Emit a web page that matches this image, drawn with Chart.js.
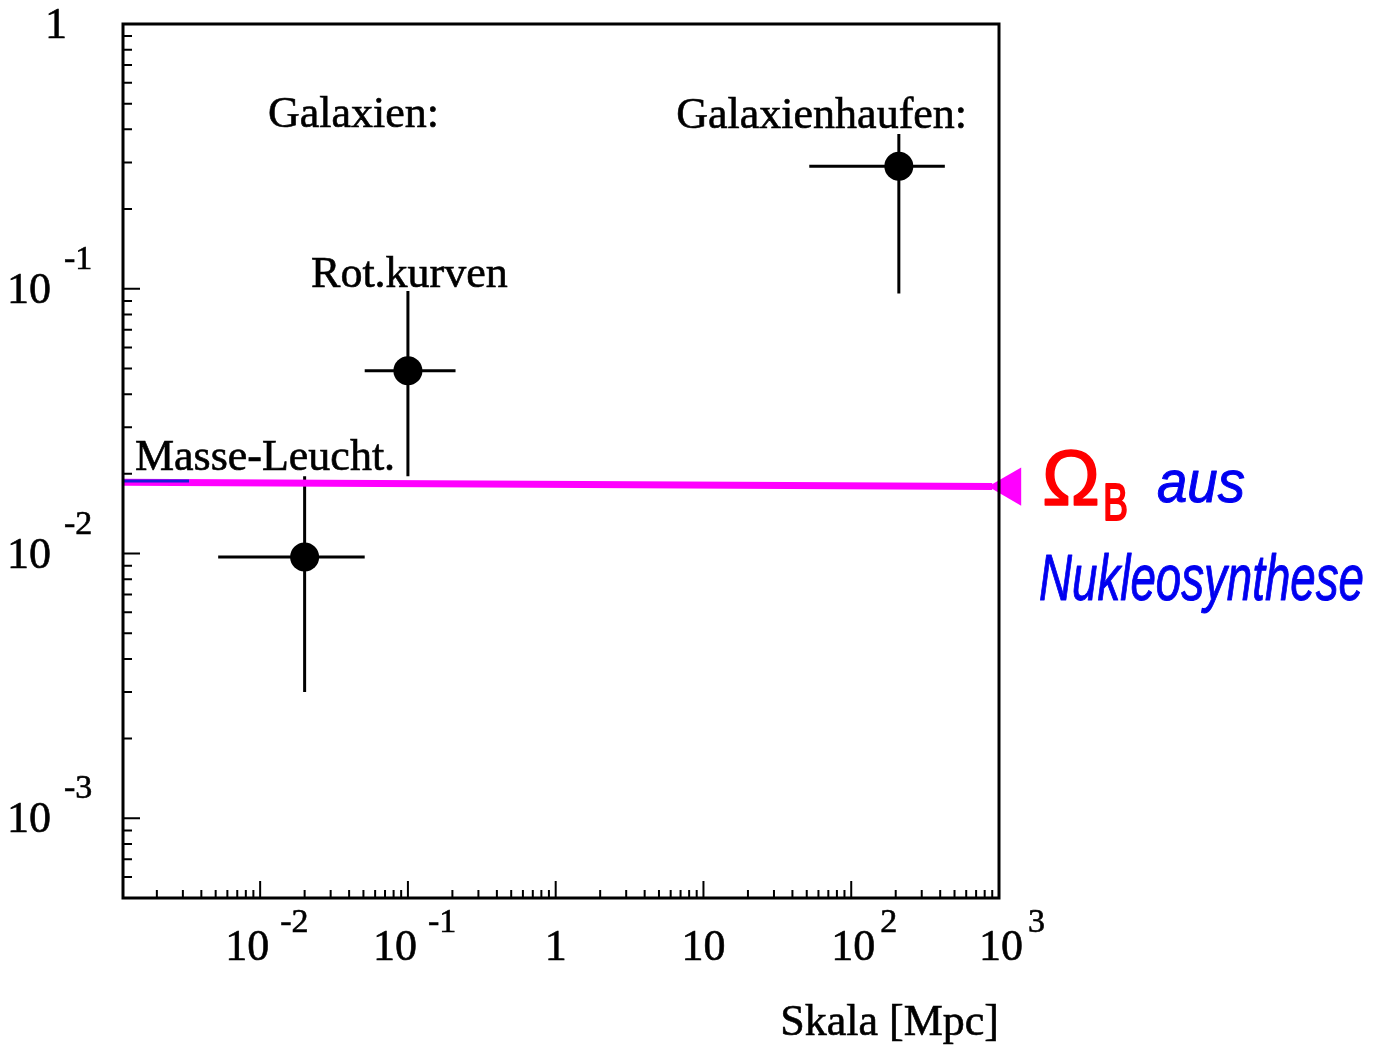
<!DOCTYPE html>
<html>
<head>
<meta charset="utf-8">
<style>
  html, body { margin: 0; padding: 0; background: #fff; }
  canvas { display: block; }
</style>
<script src="https://cdn.jsdelivr.net/npm/chart.js@4.4.1/dist/chart.umd.min.js"></script>
</head>
<body>
<canvas id="c" width="1382" height="1046"></canvas>
<script>
// Mass density estimates Omega versus length scale (Mpc)
const groups     = ['Masse-Leucht.', 'Rot.kurven', 'Galaxienhaufen'];
const scaleMpc   = [0.02, 0.1, 210];
const scaleLow   = [0.0052, 0.051, 52];
const scaleHigh  = [0.051, 0.21, 430];
const omega      = [0.0097, 0.049, 0.29];
const omegaLow   = [0.003, 0.0196, 0.096];
const omegaHigh  = [0.0196, 0.098, 0.384];

// Baryon density from nucleosynthesis (hand-drawn marker line, left/right end)
const omegaBScale = [0.00118, 900];
const omegaBValue = [0.0186, 0.0179];
const arrowScale  = 1190;
// short pen stroke at the left end of the marker line
const penScale    = [0.00118, 0.0033];
const penValue    = [0.0188, 0.0188];

// Axis ranges
const xMin = 0.00118, xMax = 1000;
const yMin = 0.0005,  yMax = 1;

// Tick labels (base and exponent)
const xTickValues = [0.01, 0.1, 1, 10, 100, 1000];
const xTickBase   = ['10', '10', '1', '10', '10', '10'];
const xTickExp    = ['-2', '-1', '', '', '2', '3'];
const yTickValues = [1, 0.1, 0.01, 0.001];
const yTickBase   = ['1', '10', '10', '10'];
const yTickExp    = ['', '-1', '-2', '-3'];
const minorSteps  = [2, 3, 4, 5, 6, 7, 8, 9];

// Text inside the frame, anchored at data coordinates (left edge, baseline)
const noteTexts = ['Galaxien:', 'Galaxienhaufen:', 'Rot.kurven', 'Masse-Leucht.'];
const noteX     = [0.0113, 6.55, 0.0221, 0.00142];
const noteY     = [0.408, 0.405, 0.1016, 0.0207];

const xTitle = 'Skala [Mpc]';

const SERIF = "'Liberation Serif', 'Times New Roman', serif";
const MAIN_FONT = '44px ' + SERIF;
const SUP_FONT  = '34px ' + SERIF;

function minorTicks(lo, hi) {
  const out = [];
  for (let d = Math.floor(Math.log10(lo)); d <= Math.ceil(Math.log10(hi)); d++) {
    for (const m of minorSteps) {
      const v = m * Math.pow(10, d);
      if (v > lo * 1.0001 && v < hi * 0.9999) out.push(v);
    }
  }
  return out;
}

// Text with a faint outline so it prints a little heavier
function inkText(ctx, text, x, y) {
  ctx.fillText(text, x, y);
  ctx.strokeText(text, x, y);
}

// Draw a string squeezed to a given width
function fitText(ctx, text, x, y, width, font, color, weight) {
  ctx.save();
  ctx.font = font;
  ctx.fillStyle = color;
  ctx.strokeStyle = color;
  ctx.lineWidth = weight;
  ctx.lineJoin = 'round';
  ctx.textAlign = 'left';
  const w = ctx.measureText(text).width;
  ctx.translate(x, y);
  ctx.scale(width / w, 1);
  ctx.fillText(text, 0, 0);
  if (weight > 0) ctx.strokeText(text, 0, 0);
  ctx.restore();
}

const errorBars = {
  id: 'errorBars',
  beforeDatasetsDraw(chart) {
    const { ctx, scales: { x, y } } = chart;
    ctx.save();
    ctx.strokeStyle = '#000';
    ctx.lineWidth = 3;
    for (let i = 0; i < scaleMpc.length; i++) {
      const px = x.getPixelForValue(scaleMpc[i]);
      const py = y.getPixelForValue(omega[i]);
      ctx.beginPath();
      ctx.moveTo(x.getPixelForValue(scaleLow[i]), py);
      ctx.lineTo(x.getPixelForValue(scaleHigh[i]), py);
      ctx.moveTo(px, y.getPixelForValue(omegaLow[i]));
      ctx.lineTo(px, y.getPixelForValue(omegaHigh[i]));
      ctx.stroke();
    }
    ctx.restore();
  }
};

const frameAndLabels = {
  id: 'frameAndLabels',
  afterDraw(chart) {
    const { ctx, chartArea: a, scales: { x, y } } = chart;
    ctx.save();

    // frame
    ctx.strokeStyle = '#000';
    ctx.lineWidth = 3;
    ctx.strokeRect(a.left, a.top, a.right - a.left, a.bottom - a.top);

    // inward ticks on the left and bottom axes
    ctx.lineWidth = 2;
    ctx.beginPath();
    for (const v of xTickValues) {
      const p = x.getPixelForValue(v);
      ctx.moveTo(p, a.bottom); ctx.lineTo(p, a.bottom - 17);
    }
    for (const v of minorTicks(xMin, xMax)) {
      const p = x.getPixelForValue(v);
      ctx.moveTo(p, a.bottom); ctx.lineTo(p, a.bottom - 8);
    }
    for (const v of yTickValues) {
      const p = y.getPixelForValue(v);
      ctx.moveTo(a.left, p); ctx.lineTo(a.left + 17, p);
    }
    for (const v of minorTicks(yMin, yMax)) {
      const p = y.getPixelForValue(v);
      ctx.moveTo(a.left, p); ctx.lineTo(a.left + 9, p);
    }
    ctx.stroke();

    ctx.fillStyle = '#000';
    ctx.strokeStyle = '#000';
    ctx.lineWidth = 0.6;
    ctx.textBaseline = 'alphabetic';

    // x tick labels
    xTickValues.forEach((v, i) => {
      const t = x.getPixelForValue(v);
      const base = xTickBase[i], exp = xTickExp[i];
      ctx.font = MAIN_FONT;
      const w = ctx.measureText(base).width;
      let cx = t;
      if (exp.startsWith('-')) cx = t - 13;
      else if (exp) cx = t + 2;
      ctx.textAlign = 'center';
      inkText(ctx, base, cx, a.bottom + 62);
      if (exp) {
        ctx.font = SUP_FONT;
        ctx.textAlign = 'left';
        inkText(ctx, exp, cx + w / 2 + (exp.startsWith('-') ? 11 : 5), a.bottom + 34);
      }
    });

    // y tick labels
    yTickValues.forEach((v, i) => {
      const t = y.getPixelForValue(v);
      const base = yTickBase[i], exp = yTickExp[i];
      ctx.font = MAIN_FONT;
      ctx.textAlign = 'left';
      if (exp) {
        inkText(ctx, base, 7, t + 14);
        ctx.font = SUP_FONT;
        inkText(ctx, exp, 64, t - 20);
      } else {
        inkText(ctx, base, 45, t + 14);
      }
    });

    // axis title
    ctx.font = MAIN_FONT;
    ctx.textAlign = 'right';
    inkText(ctx, xTitle, a.right, a.bottom + 137);

    // notes inside the frame
    ctx.textAlign = 'left';
    noteTexts.forEach((s, i) => {
      inkText(ctx, s, x.getPixelForValue(noteX[i]), y.getPixelForValue(noteY[i]));
    });

    // handwritten caption next to the marker line
    const ly = y.getPixelForValue(omegaBValue[1]);
    const lx = a.right;
    fitText(ctx, 'Ω', lx + 43, ly + 18, 58, '78px "Liberation Sans"', '#ff0000', 1.5);
    fitText(ctx, 'B', lx + 104, ly + 33, 25, '52px "Liberation Sans"', '#ff0000', 2);
    fitText(ctx, 'aus', lx + 158, ly + 15, 88, 'italic 60px "Liberation Sans"', '#0000f0', 1);
    fitText(ctx, 'Nukleosynthese', lx + 40, ly + 113, 325, 'italic 64px "Liberation Sans"', '#0000f0', 1);

    ctx.restore();
  }
};

new Chart(document.getElementById('c'), {
  type: 'scatter',
  data: {
    datasets: [
      {
        label: 'Omega',
        data: scaleMpc.map((v, i) => ({ x: v, y: omega[i] })),
        pointRadius: 14.5,
        pointHoverRadius: 14.5,
        pointBackgroundColor: '#000',
        pointBorderWidth: 0,
        showLine: false,
        order: 0
      },
      {
        label: 'pen',
        type: 'line',
        data: penScale.map((v, i) => ({ x: v, y: penValue[i] })),
        borderColor: '#1a1ad8',
        borderWidth: 3,
        pointRadius: 0,
        fill: false,
        clip: false,
        order: 1
      },
      {
        label: 'Omega_B',
        type: 'line',
        data: omegaBScale.map((v, i) => ({ x: v, y: omegaBValue[i] })),
        borderColor: '#ff00ff',
        borderWidth: 7,
        pointRadius: 0,
        fill: false,
        clip: false,
        order: 2
      },
      {
        label: 'Omega_B arrow',
        data: [{ x: arrowScale, y: omegaBValue[1] }],
        pointStyle: 'triangle',
        rotation: -90,
        pointRadius: 22,
        pointHoverRadius: 22,
        pointBackgroundColor: '#ff00ff',
        pointBorderWidth: 0,
        clip: false,
        order: 2
      }
    ]
  },
  options: {
    responsive: false,
    animation: false,
    devicePixelRatio: 1,
    events: [],
    layout: { padding: { left: 123, top: 24, right: 383, bottom: 148 } },
    plugins: { legend: { display: false }, tooltip: { enabled: false } },
    scales: {
      x: {
        type: 'logarithmic', min: xMin, max: xMax,
        ticks: { display: false },
        grid: { display: false, drawTicks: false },
        border: { display: false }
      },
      y: {
        type: 'logarithmic', min: yMin, max: yMax,
        ticks: { display: false },
        grid: { display: false, drawTicks: false },
        border: { display: false }
      }
    }
  },
  plugins: [errorBars, frameAndLabels]
});
</script>
</body>
</html>
